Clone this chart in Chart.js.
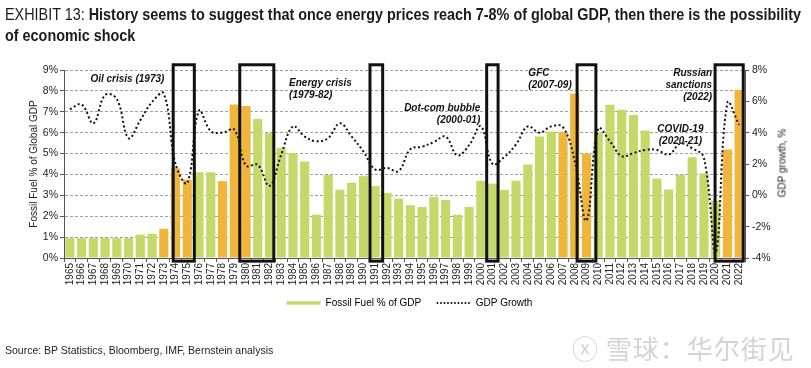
<!DOCTYPE html>
<html>
<head>
<meta charset="utf-8">
<script src="https://cdn.jsdelivr.net/npm/chart.js@4/dist/chart.umd.min.js"></script>
<style>
  body { margin: 0; background: #fff; }
  #wrap { position: relative; width: 811px; height: 368px; overflow: hidden; }
  #title { position: absolute; left: 5px; top: 4px; font-family: "Liberation Sans", Arial, sans-serif; font-size: 16px; line-height: 21px; color: #1a1a1a; white-space: nowrap; transform-origin: 0 0; }
  #title .lead { font-weight: normal; }
  #title b { font-weight: bold; }
  #rtitle { position: absolute; left: 782px; top: 163px; transform: translate(-50%, -50%) rotate(-90deg); font: 10px "Liberation Sans", Arial, sans-serif; color: #222; white-space: nowrap; }
  #source { position: absolute; left: 5px; top: 344px; font: 10.5px "Liberation Sans", Arial, sans-serif; color: #222; }
  #mark { position: absolute; left: 572px; top: 329px; font: 26px "Noto Sans CJK SC", sans-serif; color: #d4d4d4; letter-spacing: 1px; }
</style>
</head>
<body>
<div id="wrap">
  <canvas id="chart" width="811" height="368"></canvas>
  <div id="title"><span id="line1"><span class="lead">EXHIBIT 13: </span><b>History seems to suggest that once energy prices reach 7-8% of global GDP, then there is the possibility</b></span><br><b>of economic shock</b></div>
  <div id="rtitle">GDP growth, %</div>
  <div id="source">Source: BP Statistics, Bloomberg, IMF, Bernstein analysis</div>
  <div id="mark">ⓧ 雪球：华尔街见闻</div>
</div>
<script>
const years = ['1965','1966','1967','1968','1969','1970','1971','1972','1973','1974',
  '1975','1976','1977','1978','1979','1980','1981','1982','1983','1984',
  '1985','1986','1987','1988','1989','1990','1991','1992','1993','1994',
  '1995','1996','1997','1998','1999','2000','2001','2002','2003','2004',
  '2005','2006','2007','2008','2009','2010','2011','2012','2013','2014',
  '2015','2016','2017','2018','2019','2020','2021','2022'];

// fossil fuel spend, % of global GDP (left axis)
const fossilFuel = [0.95, 0.95, 0.95, 0.96, 0.95, 0.95, 1.12, 1.16, 1.40, 4.30,
  3.75, 4.10, 4.10, 3.68, 7.35, 7.28, 6.65, 5.98, 5.28, 5.03,
  4.62, 2.08, 3.97, 3.27, 3.60, 3.92, 3.45, 3.12, 2.84, 2.53,
  2.44, 2.92, 2.78, 2.07, 2.45, 3.70, 3.56, 3.26, 3.70, 4.48,
  5.82, 6.05, 6.02, 7.87, 5.00, 6.02, 7.34, 7.10, 6.84, 6.10,
  3.80, 3.28, 3.98, 4.82, 4.05, 2.75, 5.20, 8.06];

// world GDP growth, % (right axis)
const gdpGrowth = [5.5, 5.8, 4.6, 6.4, 6.15, 3.65, 4.8, 5.95, 6.5, 2.0,
  0.8, 5.4, 4.1, 4.0, 4.2, 1.9, 1.95, 0.6, 2.6, 4.4,
  3.75, 3.45, 3.65, 4.6, 3.75, 2.8, 1.65, 1.75, 1.55, 2.95,
  3.1, 3.4, 3.75, 2.55, 3.2, 4.4, 2.0, 2.45, 3.25, 4.4,
  4.0, 4.4, 4.35, 2.2, -1.6, 4.25, 3.45, 2.5, 2.7, 2.9,
  2.9, 2.6, 3.3, 3.0, 2.4, -3.7, 5.9, 4.5];

const leftTicks = [0, 1, 2, 3, 4, 5, 6, 7, 8, 9];
const rightTicks = [-4, -2, 0, 2, 4, 6, 8];

const shockYears = ['1973','1974','1975','1978','1979','1980','2007','2008','2009','2021','2022'];

// crisis frames, as [from, to] in fractional years
const crisisBoxes = [[1973.8, 1975.6], [1979.47, 1982.37], [1990.56, 1991.64],
  [2000.5, 2001.47], [2008.2, 2009.8], [2019.95, 2022.35]];

const notes = [
  { lines: ['Oil crisis (1973)'], year: 1969.9, value: 8.56, align: 'center' },
  { lines: ['Energy crisis', '(1979-82)'], year: 1983.67, value: 8.38, align: 'left' },
  { lines: ['Dot-com bubble', '(2000-01)'], year: 1999.95, value: 7.15, align: 'right' },
  { lines: ['GFC', '(2007-09)'], year: 2004.05, value: 8.84, align: 'left' },
  { lines: ['Russian', 'sanctions', '(2022)'], year: 2019.7, value: 8.84, align: 'right' },
  { lines: ['COVID-19', '(2020-21)'], year: 2017.0, value: 6.14, align: 'center' }
];

const GREEN = '#c5d86a';
const ORANGE = '#f0b53c';
const FONT = '"Liberation Sans", Arial, sans-serif';

// squeeze the heading into the condensed look of the original
const title = document.getElementById('title');
const w1 = document.getElementById('line1').getBoundingClientRect().width;
title.style.transform = 'scaleX(' + (796 / w1) + ')';

const barColors = years.map(y => shockYears.includes(y) ? ORANGE : GREEN);

const overlays = {
  id: 'overlays',
  afterDatasetsDraw(chart) {
    const ctx = chart.ctx;
    const x = chart.scales.x, y = chart.scales.y;
    const first = Number(years[0]);
    ctx.save();
    ctx.fillStyle = '#111';
    ctx.font = 'italic bold 10px ' + FONT;
    ctx.textBaseline = 'middle';
    notes.forEach(n => {
      ctx.textAlign = n.align;
      const px = x.getPixelForValue(n.year - first);
      const py = y.getPixelForValue(n.value);
      n.lines.forEach((t, i) => ctx.fillText(t, px, py + i * 12));
    });
    ctx.strokeStyle = '#111';
    ctx.lineWidth = 3;
    crisisBoxes.forEach(b => {
      const x0 = x.getPixelForValue(b[0] - first);
      const x1 = x.getPixelForValue(b[1] - first);
      const y0 = y.getPixelForValue(9.25);
      const y1 = y.getPixelForValue(-0.15);
      ctx.strokeRect(x0, y0, x1 - x0, y1 - y0);
    });
    ctx.restore();
  }
};

new Chart(document.getElementById('chart'), {
  type: 'bar',
  data: {
    labels: years,
    datasets: [{
      type: 'line',
      label: 'GDP Growth',
      data: gdpGrowth,
      yAxisID: 'y1',
      borderColor: '#111',
      borderWidth: 2,
      borderDash: [2, 2.5],
      pointRadius: 0,
      tension: 0.4,
      order: 0
    }, {
      label: 'Fossil Fuel % of GDP',
      data: fossilFuel,
      yAxisID: 'y',
      backgroundColor: barColors,
      categoryPercentage: 1,
      barPercentage: 0.78,
      order: 1
    }]
  },
  options: {
    responsive: false,
    animation: false,
    layout: { padding: { top: 70, left: 24, right: 16, bottom: 50 } },
    plugins: {
      tooltip: { enabled: false },
      legend: {
        position: 'bottom',
        labels: {
          font: { family: FONT, size: 10 },
          color: '#222',
          boxWidth: 34,
          pointStyleWidth: 34,
          padding: 10,
          usePointStyle: true,
          generateLabels() {
            return [
              { text: 'Fossil Fuel % of GDP\u00a0\u00a0', pointStyle: 'line', strokeStyle: GREEN, lineWidth: 3.5, lineDash: [], fillStyle: GREEN, datasetIndex: 1 },
              { text: 'GDP Growth', pointStyle: 'line', strokeStyle: '#111', lineWidth: 2, lineDash: [1.5, 2], fillStyle: '#111', datasetIndex: 0 }
            ];
          }
        }
      }
    },
    scales: {
      x: {
        offset: true,
        afterFit(s) { s.height = 30; },
        grid: { display: true, drawOnChartArea: false, offset: true, tickLength: 4, tickColor: '#555' },
        border: { display: true, color: '#555' },
        ticks: { minRotation: 90, maxRotation: 90, autoSkip: false, padding: 1, color: '#222', font: { family: FONT, size: 10 } }
      },
      y: {
        position: 'left',
        min: leftTicks[0],
        max: leftTicks[leftTicks.length - 1],
        afterFit(s) { s.width = 40; },
        afterBuildTicks(s) { s.ticks = leftTicks.map(v => ({ value: v })); },
        grid: { color: '#a0a0a0', lineWidth: 1, tickLength: 4, tickColor: '#555', tickBorderDash: [] },
        border: { display: true, color: '#555', dash: [3, 2] },
        ticks: { padding: 2, color: '#222', font: { family: FONT, size: 10.5 }, callback: v => v + '%' },
        title: { display: true, text: 'Fossil Fuel % of Global GDP', color: '#222', font: { family: FONT, size: 10 }, padding: { top: 4, bottom: 0 } }
      },
      y1: {
        position: 'right',
        min: rightTicks[0],
        max: rightTicks[rightTicks.length - 1],
        afterFit(s) { s.width = 50; },
        afterBuildTicks(s) { s.ticks = rightTicks.map(v => ({ value: v })); },
        grid: { drawOnChartArea: false, tickLength: 4, tickColor: '#555' },
        border: { display: true, color: '#555' },
        ticks: { padding: 3, color: '#222', font: { family: FONT, size: 10.5 }, callback: v => v + '%' }
      }
    }
  },
  plugins: [overlays]
});
</script>
</body>
</html>
